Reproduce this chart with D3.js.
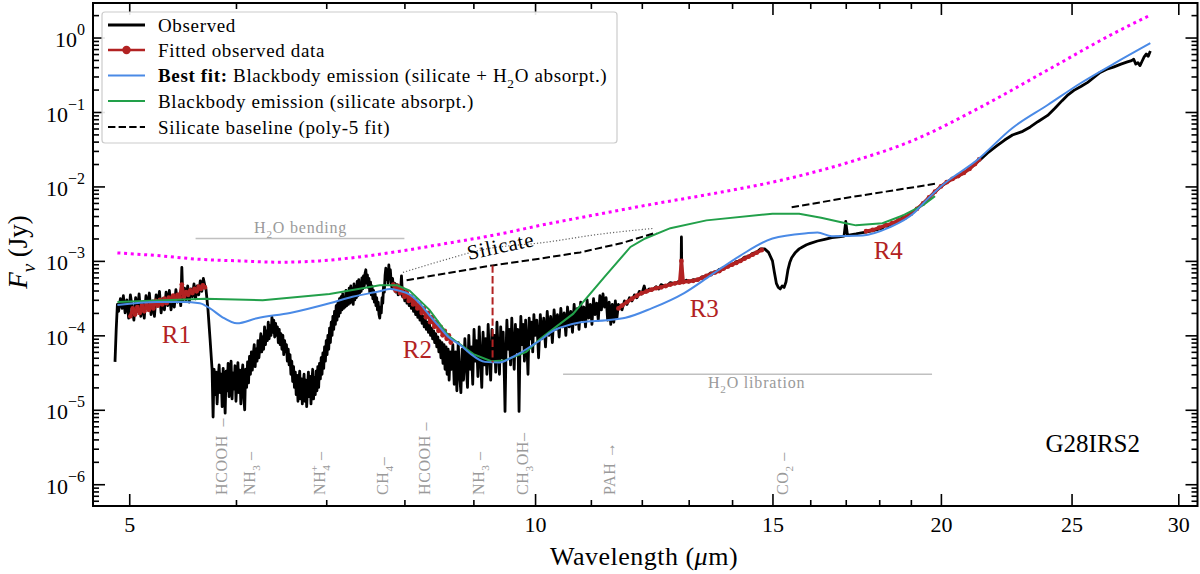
<!DOCTYPE html>
<html>
<head>
<meta charset="utf-8">
<script src="https://cdn.jsdelivr.net/npm/d3@7"></script>
<style>
  body { margin: 0; background: #fff; }
  svg { display: block; font-family: "Liberation Serif", "DejaVu Serif", serif; }
</style>
</head>
<body>
<svg width="1200" height="574"></svg>
<script>
const svg = d3.select("svg");

// DATA  (wavelength in micron, flux density in Jy)
const observed = [
  [4.88,4.4e-5],[4.89,1.2e-4],[4.90,2.6e-4],[4.91,2.1e-4],[4.925,3.1e-4],[4.94,2.3e-4],
  [4.950,3.4e-4],[4.965,2.0e-4],[4.980,3.0e-4],[4.995,1.7e-4],[5.010,3.5e-4],[5.025,2.4e-4],[5.040,1.6e-4],
  [5.055,3.2e-4],[5.070,2.1e-4],[5.085,3.6e-4],[5.100,1.8e-4],[5.115,2.7e-4],[5.130,1.7e-4],[5.145,3.4e-4],
  [5.160,2.3e-4],[5.175,3.7e-4],[5.190,1.9e-4],[5.205,2.9e-4],[5.220,1.8e-4],[5.235,3.5e-4],[5.250,2.6e-4],
  [5.265,3.9e-4],[5.280,2.0e-4],[5.295,3.1e-4],[5.310,2.2e-4],[5.325,3.8e-4],[5.340,2.5e-4],[5.355,4.0e-4],
  [5.370,2.2e-4],[5.385,3.3e-4],[5.400,2.4e-4],[5.415,4.1e-4],[5.430,2.8e-4],[5.445,3.6e-4],[5.460,2.5e-4],
  [5.470,8.2e-4],[5.480,2.9e-4],[5.495,4.3e-4],[5.510,3.0e-4],[5.525,4.6e-4],[5.540,2.8e-4],[5.555,4.2e-4],
  [5.570,3.3e-4],[5.585,4.9e-4],[5.600,3.1e-4],[5.615,4.6e-4],[5.630,3.5e-4],[5.645,5.4e-4],[5.660,3.9e-4],
  [5.675,5.8e-4],[5.690,4.6e-4],[5.700,4.2e-4],[5.72,2.2e-4],[5.74,9.0e-5],[5.76,3.5e-5],[5.77,8.0e-6],
  [5.780,3.5e-5],[5.790,1.6e-5],[5.800,3.2e-5],[5.810,1.2e-5],[5.820,2.6e-5],[5.830,4.0e-5],[5.840,1.7e-5],
  [5.850,3.0e-5],[5.860,1.1e-5],[5.870,3.6e-5],[5.880,2.2e-5],[5.890,9.0e-6],[5.900,3.3e-5],[5.910,1.8e-5],
  [5.920,4.2e-5],[5.930,1.5e-5],[5.940,2.8e-5],[5.950,4.5e-5],[5.960,1.4e-5],[5.970,3.1e-5],[5.980,1.9e-5],
  [5.990,3.9e-5],[6.000,1.3e-5],[6.010,2.6e-5],[6.020,4.3e-5],[6.030,1.7e-5],[6.040,3.4e-5],[6.050,1.2e-5],
  [6.060,2.9e-5],[6.070,4.0e-5],[6.080,1.5e-5],[6.090,1.0e-5],[6.100,3.5e-5],[6.110,2.0e-5],[6.120,4.4e-5],
  [6.130,2.3e-5],[6.140,5.2e-5],[6.150,3.0e-5],[6.160,6.0e-5],[6.170,3.4e-5],[6.180,5.5e-5],[6.190,7.5e-5],
  [6.200,3.8e-5],[6.210,6.5e-5],[6.220,4.5e-5],[6.230,8.5e-5],[6.240,5.0e-5],[6.250,7.0e-5],[6.260,1.05e-4],
  [6.270,6.0e-5],[6.280,9.5e-5],[6.290,6.5e-5],[6.300,1.3e-4],[6.310,7.5e-5],[6.320,1.15e-4],[6.330,8.5e-5],
  [6.340,1.5e-4],[6.350,9.0e-5],[6.360,1.35e-4],[6.370,1.0e-4],[6.380,1.75e-4],[6.390,1.1e-4],[6.400,1.6e-4],
  [6.410,9.5e-5],[6.420,1.45e-4],[6.430,1.0e-4],[6.440,1.3e-4],[6.450,8.0e-5],[6.460,1.2e-4],[6.470,7.5e-5],
  [6.480,1.05e-4],[6.490,6.5e-5],[6.500,1.0e-4],[6.510,5.5e-5],[6.520,8.5e-5],[6.530,6.0e-5],[6.540,7.5e-5],
  [6.550,4.5e-5],[6.560,6.5e-5],[6.570,4.0e-5],[6.580,5.5e-5],[6.590,3.0e-5],[6.600,4.5e-5],[6.610,2.4e-5],
  [6.620,3.8e-5],[6.630,2.0e-5],[6.640,3.2e-5],[6.650,1.6e-5],[6.660,2.9e-5],[6.670,1.3e-5],[6.680,2.4e-5],
  [6.690,3.3e-5],[6.700,1.4e-5],[6.710,2.6e-5],[6.720,1.2e-5],[6.730,2.2e-5],[6.740,3.0e-5],[6.750,1.3e-5],
  [6.760,2.5e-5],[6.770,1.1e-5],[6.780,2.0e-5],[6.790,3.2e-5],[6.800,1.5e-5],[6.810,2.8e-5],[6.820,1.2e-5],
  [6.830,2.3e-5],[6.840,3.5e-5],[6.850,1.4e-5],[6.860,2.7e-5],[6.870,1.6e-5],[6.880,3.3e-5],[6.890,1.8e-5],
  [6.900,3.8e-5],[6.910,2.0e-5],[6.920,4.2e-5],[6.930,2.6e-5],[6.940,5.0e-5],[6.950,3.0e-5],[6.960,5.8e-5],
  [6.970,3.6e-5],[6.980,7.0e-5],[6.990,4.5e-5],[7.000,8.5e-5],[7.010,5.5e-5],[7.020,1.0e-4],[7.030,6.5e-5],
  [7.040,1.25e-4],[7.050,8.0e-5],[7.060,1.5e-4],[7.070,1.0e-4],[7.080,1.8e-4],[7.090,1.2e-4],[7.100,2.1e-4],
  [7.110,1.4e-4],[7.120,2.5e-4],[7.130,1.6e-4],[7.140,2.7e-4],[7.150,1.8e-4],[7.160,3.1e-4],[7.170,2.0e-4],
  [7.180,3.3e-4],[7.190,2.2e-4],[7.200,3.6e-4],[7.210,2.3e-4],[7.220,3.2e-4],[7.230,2.4e-4],[7.240,4.0e-4],
  [7.250,2.5e-4],[7.260,3.7e-4],[7.270,2.6e-4],[7.280,4.3e-4],[7.290,2.7e-4],[7.300,4.6e-4],[7.310,2.8e-4],
  [7.320,4.2e-4],[7.330,2.6e-4],[7.340,4.9e-4],[7.350,3.0e-4],[7.360,4.5e-4],[7.370,3.2e-4],[7.380,5.3e-4],
  [7.390,3.4e-4],[7.400,5.6e-4],[7.410,3.7e-4],[7.420,5.0e-4],[7.430,3.9e-4],[7.440,5.9e-4],[7.450,4.2e-4],
  [7.460,6.3e-4],[7.470,4.6e-4],[7.480,6.8e-4],[7.490,7.6e-4],[7.500,5.0e-4],[7.510,6.5e-4],[7.520,4.4e-4],
  [7.530,5.8e-4],[7.540,3.8e-4],[7.550,5.2e-4],[7.560,3.5e-4],[7.570,4.6e-4],[7.580,3.1e-4],[7.590,4.0e-4],
  [7.600,2.8e-4],[7.610,3.6e-4],[7.620,2.5e-4],[7.630,3.2e-4],[7.640,2.2e-4],[7.650,2.8e-4],[7.660,1.9e-4],
  [7.670,1.7e-4],[7.680,2.4e-4],[7.690,2.0e-4],[7.700,3.2e-4],[7.710,2.7e-4],[7.720,4.6e-4],[7.730,3.8e-4],
  [7.740,6.4e-4],[7.750,8.0e-4],[7.760,5.6e-4],[7.770,7.2e-4],[7.780,5.0e-4],[7.790,8.8e-4],[7.800,6.2e-4],
  [7.810,7.6e-4],[7.820,5.4e-4],[7.830,4.4e-4],[7.840,5.8e-4],[7.850,4.2e-4],[7.870,5.0e-4],[7.885,3.8e-4],
  [7.900,4.8e-4],[7.915,3.5e-4],[7.930,4.4e-4],[7.945,3.6e-4],[7.960,6.3e-4],[7.975,3.3e-4],[7.990,4.0e-4],
  [8.005,2.9e-4],[8.020,3.6e-4],[8.035,2.7e-4],[8.050,3.3e-4],[8.065,2.5e-4],[8.080,3.1e-4],[8.095,2.3e-4],
  [8.110,2.8e-4],[8.125,2.1e-4],[8.140,2.6e-4],[8.155,1.9e-4],[8.170,2.4e-4],[8.185,1.75e-4],[8.200,2.2e-4],
  [8.215,1.6e-4],[8.230,2.0e-4],[8.245,1.45e-4],[8.260,1.8e-4],[8.275,1.3e-4],[8.290,1.65e-4],[8.305,1.2e-4],
  [8.320,1.5e-4],[8.335,1.1e-4],[8.350,1.4e-4],[8.365,1.0e-4],[8.380,1.25e-4],[8.395,9.0e-5],[8.410,1.15e-4],
  [8.425,8.0e-5],[8.440,1.05e-4],[8.455,7.0e-5],[8.470,9.5e-5],[8.485,6.0e-5],[8.500,8.5e-5],[8.515,5.0e-5],
  [8.530,8.0e-5],[8.545,4.2e-5],[8.560,7.5e-5],[8.575,3.5e-5],[8.590,7.0e-5],[8.605,3.0e-5],[8.620,6.5e-5],
  [8.635,2.5e-5],[8.650,6.0e-5],[8.670,3.5e-5],[8.690,7.5e-5],[8.710,2.2e-5],[8.730,6.0e-5],[8.750,1.8e-5],
  [8.770,8.0e-5],[8.790,3.0e-5],[8.810,1.7e-5],[8.830,6.5e-5],[8.850,2.5e-5],[8.870,9.0e-5],[8.890,4.0e-5],
  [8.910,2.0e-5],[8.930,1.0e-4],[8.950,3.5e-5],[8.970,7.0e-5],[8.990,2.2e-5],[9.010,1.2e-4],[9.030,4.5e-5],
  [9.050,8.5e-5],[9.070,2.8e-5],[9.090,1.3e-4],[9.110,5.0e-5],[9.130,2.0e-5],[9.150,1.1e-4],[9.170,4.0e-5],
  [9.190,9.0e-5],[9.210,3.0e-5],[9.230,1.4e-4],[9.250,5.5e-5],[9.270,2.5e-5],[9.290,1.2e-4],[9.310,4.5e-5],
  [9.330,1.0e-4],[9.350,3.2e-5],[9.370,1.5e-4],[9.390,6.0e-5],[9.410,3.0e-5],[9.430,1.3e-4],[9.450,5.0e-5],
  [9.470,1.1e-4],[9.490,2.5e-5],[9.500,9.5e-6],[9.515,5.5e-5],[9.530,1.6e-4],[9.550,6.5e-5],[9.570,1.2e-4],
  [9.590,4.0e-5],[9.610,1.7e-4],[9.630,7.0e-5],[9.650,3.5e-5],[9.670,1.4e-4],[9.690,6.0e-5],[9.710,1.2e-4],
  [9.730,9.5e-6],[9.745,6.5e-5],[9.760,1.8e-4],[9.780,7.5e-5],[9.800,1.4e-4],[9.820,4.5e-5],[9.840,1.6e-4],
  [9.860,8.0e-5],[9.880,3.0e-5],[9.900,1.7e-4],[9.920,9.0e-5],[9.940,1.5e-4],[9.960,6.0e-5],[9.980,1.9e-4],
  [10.00,1.0e-4],[10.03,1.6e-4],[10.06,5.0e-5],[10.09,1.9e-4],[10.12,9.0e-5],[10.15,1.7e-4],[10.18,7.0e-5],
  [10.21,2.1e-4],[10.24,1.0e-4],[10.27,1.8e-4],[10.30,8.0e-5],[10.33,2.2e-4],[10.36,1.2e-4],[10.39,1.9e-4],
  [10.42,9.5e-5],[10.45,2.3e-4],[10.48,1.3e-4],[10.51,2.0e-4],[10.54,1.0e-4],[10.57,2.4e-4],[10.60,1.3e-4],
  [10.63,2.1e-4],[10.66,1.1e-4],[10.69,2.6e-4],[10.72,1.4e-4],[10.75,2.3e-4],[10.78,1.2e-4],[10.81,2.8e-4],
  [10.84,1.6e-4],[10.87,2.4e-4],[10.90,1.3e-4],[10.93,3.0e-4],[10.96,1.7e-4],[10.99,2.6e-4],[11.02,1.4e-4],
  [11.05,3.1e-4],[11.08,1.9e-4],[11.11,2.7e-4],[11.14,1.6e-4],[11.17,3.4e-4],[11.20,2.2e-4],[11.23,3.6e-4],
  [11.26,2.4e-4],[11.29,3.2e-4],[11.32,1.6e-4],[11.35,2.8e-4],[11.38,1.4e-4],[11.41,2.6e-4],[11.44,1.5e-4],
  [11.47,2.9e-4],[11.50,1.7e-4],[11.53,2.6e-4],[11.6,2.2e-4],[11.65,2.9e-4],
  [11.7,2.6e-4],[11.75,3.2e-4],[11.8,2.9e-4],[11.85,3.5e-4],[11.9,3.2e-4],[11.95,3.9e-4],[12.0,3.6e-4],[12.05,4.6e-4],
  [12.08,3.8e-4],[12.15,4.2e-4],[12.2,4.0e-4],[12.3,4.5e-4],[12.35,4.2e-4],[12.4,4.8e-4],[12.5,4.5e-4],[12.6,5.1e-4],
  [12.7,4.9e-4],[12.78,5.3e-4],[12.83,5.1e-4],[12.84,2.1e-3],[12.85,5.2e-4],[12.95,5.5e-4],[13.0,5.2e-4],[13.1,5.6e-4],
  [13.2,5.5e-4],[13.3,6.1e-4],[13.4,6.2e-4],[13.5,6.9e-4],[13.6,6.9e-4],[13.7,7.7e-4],[13.8,7.9e-4],[13.9,8.7e-4],
  [14.0,8.8e-4],[14.1,9.8e-4],[14.2,1.0e-3],[14.3,1.12e-3],[14.4,1.14e-3],[14.5,1.26e-3],[14.6,1.3e-3],[14.7,1.45e-3],
  [14.8,1.45e-3],[14.9,1.3e-3],[15.0,1.0e-3],[15.05,7.0e-4],[15.1,5.0e-4],[15.15,4.4e-4],[15.2,4.2e-4],[15.25,4.6e-4],
  [15.3,4.4e-4],[15.35,5.2e-4],[15.4,7.5e-4],[15.45,9.5e-4],[15.5,1.1e-3],[15.6,1.3e-3],[15.7,1.45e-3],[15.8,1.55e-3],
  [15.9,1.65e-3],[16.0,1.72e-3],[16.2,1.85e-3],[16.4,1.95e-3],[16.6,2.05e-3],[16.8,2.1e-3],[16.95,2.15e-3],[17.0,3.4e-3],
  [17.05,2.2e-3],[17.3,2.3e-3],[17.5,2.4e-3],[17.7,2.5e-3],[17.9,2.6e-3],[18.1,2.75e-3],[18.2,3.1e-3],[18.25,2.9e-3],
  [18.5,3.3e-3],[18.7,3.6e-3],[18.72,4.0e-3],[18.75,3.7e-3],[19.0,4.3e-3],[19.3,5.4e-3],[19.6,7.1e-3],[20.0,1.0e-2],
  [20.4,1.27e-2],[20.8,1.52e-2],[21.1,1.85e-2],[21.4,2.3e-2],[21.7,2.9e-2],[22.0,3.5e-2],[22.3,4.2e-2],[22.6,4.9e-2],
  [23.0,5.5e-2],[23.3,6.3e-2],[23.6,7.4e-2],[24.0,9.0e-2],[24.3,1.12e-1],[24.6,1.42e-1],[24.85,1.7e-1],[25.1,1.95e-1],
  [25.4,2.2e-1],[25.7,2.5e-1],[26.0,2.95e-1],[26.25,3.4e-1],[26.55,3.75e-1],[26.85,4.0e-1],[27.2,4.4e-1],[27.5,4.7e-1],
  [27.7,4.9e-1],[27.8,5.1e-1],[27.9,4.4e-1],[28.0,4.6e-1],[28.1,4.2e-1],[28.2,4.8e-1],[28.3,5.5e-1],[28.4,6.0e-1],
  [28.5,5.6e-1],[28.6,6.6e-1]
];

const fitR1 = [
  [5.01,1.8e-4],[5.03,2.3e-4],[5.05,1.9e-4],[5.07,2.4e-4],[5.09,2.0e-4],[5.11,2.5e-4],[5.13,2.1e-4],[5.15,2.6e-4],
  [5.17,2.2e-4],[5.19,2.8e-4],[5.21,2.3e-4],[5.23,2.9e-4],[5.25,2.5e-4],[5.27,3.0e-4],[5.29,2.6e-4],[5.31,3.1e-4],
  [5.33,2.7e-4],[5.35,3.2e-4],[5.37,2.9e-4],[5.39,3.4e-4],[5.41,3.0e-4],[5.43,3.5e-4],[5.45,3.2e-4],[5.47,4.8e-4],
  [5.49,3.3e-4],[5.51,3.8e-4],[5.53,3.5e-4],[5.55,4.0e-4],[5.57,3.7e-4],[5.59,4.2e-4],[5.61,3.9e-4],[5.63,4.5e-4],
  [5.65,4.2e-4],[5.67,4.7e-4],[5.69,4.4e-4]
];
const fitR2 = [
  [7.85,4.8e-4],[7.88,4.0e-4],[7.91,4.6e-4],[7.94,3.7e-4],[7.97,4.2e-4],[8.00,3.3e-4],[8.03,3.8e-4],[8.06,2.9e-4],
  [8.09,3.3e-4],[8.12,2.6e-4],[8.15,3.0e-4],[8.18,2.3e-4],[8.21,2.6e-4],[8.24,2.0e-4],[8.27,2.3e-4],[8.30,1.75e-4],
  [8.33,2.0e-4],[8.36,1.5e-4],[8.39,1.75e-4],[8.42,1.3e-4],[8.45,1.5e-4],[8.48,1.15e-4],[8.51,1.3e-4],[8.54,1.0e-4],
  [8.57,1.15e-4],[8.60,9.0e-5],[8.63,1.0e-4],[8.66,8.0e-5]
];
const fitR3 = [
  [11.53,2.3e-4],[11.6,2.5e-4],[11.7,2.8e-4],[11.8,3.1e-4],[11.9,3.4e-4],[12.0,3.7e-4],[12.1,3.9e-4],[12.2,4.1e-4],
  [12.3,4.3e-4],[12.4,4.4e-4],[12.5,4.6e-4],[12.6,4.8e-4],[12.7,5.0e-4],[12.8,5.1e-4],[12.84,1.0e-3],[12.88,5.2e-4],
  [13.0,5.3e-4],[13.1,5.4e-4],[13.2,5.6e-4],[13.3,5.9e-4],[13.4,6.3e-4],[13.5,6.6e-4],[13.6,7.0e-4],[13.7,7.3e-4],
  [13.8,7.9e-4],[13.9,8.4e-4],[14.0,8.9e-4],[14.1,9.4e-4],[14.2,1.0e-3],[14.3,1.07e-3],[14.4,1.14e-3],[14.5,1.21e-3],
  [14.6,1.29e-3],[14.73,1.4e-3]
];
const fitR4 = [
  [17.6,2.5e-3],[17.8,2.6e-3],[18.0,2.8e-3],[18.2,3.0e-3],[18.4,3.2e-3],[18.6,3.5e-3],[18.8,3.8e-3],[19.0,4.3e-3],
  [19.2,5.0e-3],[19.4,5.9e-3],[19.6,7.1e-3],[19.8,8.5e-3],[20.0,1.0e-2],[20.2,1.14e-2],[20.4,1.26e-2],[20.6,1.38e-2],
  [20.8,1.52e-2],[21.0,1.72e-2],[21.2,2.0e-2],[21.35,2.3e-2]
];

// best fit: blackbody with silicate + H2O absorption
const bestFit = [
  [4.9,2.55e-4],[5.24,2.8e-4],[5.48,2.8e-4],[5.64,2.7e-4],[5.74,2.3e-4],[5.86,1.76e-4],[6.01,1.45e-4],[6.22,1.7e-4],
  [6.58,2.0e-4],[7.04,2.7e-4],[7.32,3.3e-4],[7.67,3.9e-4],[7.81,4.2e-4],[7.92,4.0e-4],[8.08,3.5e-4],[8.21,2.7e-4],
  [8.35,1.86e-4],[8.5,1.28e-4],[8.63,9.4e-5],[8.8,7.4e-5],[8.94,5.8e-5],[9.18,4.4e-5],[9.41,4.3e-5],[9.6,5.0e-5],
  [9.75,5.8e-5],[9.96,7.4e-5],[10.09,8.6e-5],[10.33,1.17e-4],[10.45,1.28e-4],[10.81,1.5e-4],[11.3,1.6e-4],
  [11.67,1.72e-4],[12.2,2.3e-4],[12.9,3.7e-4],[13.5,6.4e-4],[14.2,1.18e-3],[15.0,2.0e-3],[15.9,2.35e-3],[16.2,2.4e-3],
  [16.6,2.15e-3],[17.5,2.2e-3],[18.3,2.8e-3],[19.1,4.4e-3],[19.5,6.5e-3],[20.0,1.0e-2],[21.3,2.3e-2],[22.6,6.1e-2],
  [24.0,1.24e-1],[25.4,2.45e-1],[26.9,4.5e-1],[28.6,8.4e-1]
];
// blackbody with silicate absorption only
const silicateOnly = [
  [4.9,2.8e-4],[5.69,3.1e-4],[6.28,2.96e-4],[7.04,3.6e-4],[7.67,4.7e-4],[7.9,4.7e-4],[8.07,4.0e-4],[8.35,2.2e-4],
  [8.63,9.8e-5],[9.0,5.6e-5],[9.28,4.5e-5],[9.5,4.6e-5],[9.85,6.0e-5],[10.09,9.0e-5],[10.67,1.94e-4],[11.26,6.1e-4],
  [11.77,1.54e-3],[12.07,2.0e-3],[12.6,2.75e-3],[13.4,3.5e-3],[15.0,4.3e-3],[15.7,4.3e-3],[16.3,3.8e-3],[17.0,3.2e-3],
  [17.3,3.0e-3],[18.1,3.2e-3],[18.7,4.0e-3],[19.4,5.6e-3],[19.8,7.4e-3]
];
// unabsorbed emission (magenta dotted)
const magentaModel = [
  [4.9,1.28e-3],[5.27,1.17e-3],[5.64,1.05e-3],[6.04,1.0e-3],[6.46,9.6e-4],[6.92,1.0e-3],[7.41,1.13e-3],[7.94,1.35e-3],
  [8.65,1.75e-3],[9.42,2.3e-3],[10.09,3.0e-3],[11.19,4.3e-3],[12.1,5.6e-3],[13.75,8.4e-3],[15.25,1.22e-2],
  [17.0,2.05e-2],[19.1,4.2e-2],[21.4,1.16e-1],[24.0,3.66e-1],[26.9,1.15],[28.6,2.0]
];
// silicate baseline (poly-5), two drawn stretches
const baselineA = [[8.03,5.5e-4],[9.3,8.7e-4],[10.08,1.07e-3],[10.8,1.3e-3],[11.58,1.72e-3],[12.3,2.4e-3]];
const baselineB = [[15.5,5.25e-3],[17.0,7.0e-3],[19.9,1.1e-2]];
const silicateGuide = [[7.98,7.0e-4],[8.6,1.05e-3],[9.1,1.39e-3],[10.21,1.79e-3],[11.12,2.26e-3],[12.24,2.73e-3]];
const tauMarker = [[9.3,8.7e-4],[9.3,4.3e-5]];

// annotations
const bands = [
  {parts:[["H"],["2","sub"],["O bending"]], from:5.6, to:8.0, flux:2.0e-3, textFlux:2.37e-3, textWave:6.7},
  {parts:[["H"],["2","sub"],["O libration"]], from:10.49, to:19.7, flux:3.0e-5, textFlux:1.95e-5, textWave:14.6}
];
const molecules = [
  {wave:5.91, parts:[["HCOOH\u2002\u2013"]]},
  {wave:6.20, parts:[["NH"],["3","sub"],[" \u2013"]]},
  {wave:6.99, parts:[["NH"],["4","sub"],["+","sup",-7],[" \u2013"]]},
  {wave:7.78, parts:[["CH"],["4","sub"],["\u2013"]]},
  {wave:8.36, parts:[["HCOOH \u2013"]]},
  {wave:9.17, parts:[["NH"],["3","sub"],[" \u2013"]]},
  {wave:9.88, parts:[["CH"],["3","sub"],["OH\u2013"]]},
  {wave:11.46, parts:[["PAH \u2192"]]},
  {wave:15.40, parts:[["CO"],["2","sub"],[" \u2013"]]}
];
const regionNames = ["R1","R2","R3","R4"];
const regionWave = [5.42, 8.18, 13.35, 18.28];
const regionFlux = [7.8e-5, 4.9e-5, 1.75e-4, 1.05e-3];

const xMajor = [5, 10, 15, 20, 25, 30];
const xMinor = [6, 7, 8, 9, 11, 12, 13, 14, 16, 17, 18, 19];
const yExponents = [-6, -5, -4, -3, -2, -1, 0];

// COLOURS
const red = "#b22222", blue = "#4a8ae6", green = "#22a04a", magenta = "#ff00ff";
const grayText = "#9a9a9a", grayLine = "#c0c0c0";

// SCALES
const pL = 93, pR = 1197.5, pT = 3, pB = 506;
const x = d3.scaleLog().domain([4.7, 31]).range([pL, pR]);
const y = d3.scaleLog().domain([5.1e-7, 2.91]).range([pB, pT]);
const line = d3.line().x(d => x(d[0])).y(d => y(d[1]));
const smooth = d3.line().curve(d3.curveMonotoneX).x(d => x(d[0])).y(d => y(d[1]));

// rich text helper: parts = [text, style, dx]
function rich(sel, parts, size) {
  let cur = 0;
  parts.forEach(([t, s, dx]) => {
    const off = s === "sub" ? 0.3 * size : s === "sup" ? -0.45 * size : 0;
    const ts = sel.append("tspan").attr("dy", off - cur).text(t);
    if (dx) ts.attr("dx", dx);
    if (s === "sub" || s === "sup") ts.attr("font-size", 0.7 * size);
    if (s === "b") ts.attr("font-weight", "bold");
    if (s === "i") ts.attr("font-style", "italic");
    cur = off;
  });
}

svg.append("clipPath").attr("id", "plot")
  .append("rect").attr("x", pL).attr("y", pT).attr("width", pR - pL).attr("height", pB - pT);
const plot = svg.append("g").attr("clip-path", "url(#plot)");

// grey annotation lines
plot.selectAll(".band").data(bands).enter().append("line")
  .attr("x1", d => x(d.from)).attr("x2", d => x(d.to))
  .attr("y1", d => y(d.flux)).attr("y2", d => y(d.flux))
  .attr("stroke", grayLine).attr("stroke-width", 1.5);
plot.selectAll(".bandText").data(bands).enter().append("text")
  .attr("x", d => x(d.textWave)).attr("y", d => y(d.textFlux))
  .attr("text-anchor", "middle").attr("font-size", 16).attr("letter-spacing", 0.8)
  .attr("fill", grayText)
  .each(function(d) { rich(d3.select(this), d.parts, 16); });

// silicate guide (grey dotted)
plot.append("path").datum(silicateGuide).attr("d", smooth)
  .attr("fill", "none").attr("stroke", "#666").attr("stroke-width", 1.2).attr("stroke-dasharray", "1.2,2");

// magenta dotted model
plot.append("path").datum(magentaModel).attr("d", smooth)
  .attr("fill", "none").attr("stroke", magenta).attr("stroke-width", 3).attr("stroke-dasharray", "3,3.7");

// observed spectrum
plot.append("path").datum(observed).attr("d", line)
  .attr("fill", "none").attr("stroke", "#000").attr("stroke-width", 2.8).attr("stroke-linejoin", "round");

// fitted observed data
[fitR1, fitR2, fitR3, fitR4].forEach(seg => {
  plot.append("path").datum(seg).attr("d", line)
    .attr("fill", "none").attr("stroke", red).attr("stroke-width", 3.4).attr("stroke-linejoin", "round");
  plot.selectAll(null).data(seg).enter().append("circle")
    .attr("cx", d => x(d[0])).attr("cy", d => y(d[1])).attr("r", 2.4).attr("fill", red);
});

// models
plot.append("path").datum(silicateOnly).attr("d", line)
  .attr("fill", "none").attr("stroke", green).attr("stroke-width", 2);
plot.append("path").datum(bestFit).attr("d", smooth)
  .attr("fill", "none").attr("stroke", blue).attr("stroke-width", 2);

// silicate baseline
[baselineA, baselineB].forEach(seg => {
  plot.append("path").datum(seg).attr("d", line)
    .attr("fill", "none").attr("stroke", "#000").attr("stroke-width", 2).attr("stroke-dasharray", "7.4,3.2");
});
plot.append("path").datum(tauMarker).attr("d", line)
  .attr("fill", "none").attr("stroke", red).attr("stroke-width", 2).attr("stroke-dasharray", "7.4,3.2");

// text labels in the plot
const silX = x(9.45), silY = y(1.28e-3);
plot.append("text").attr("x", silX).attr("y", silY)
  .attr("transform", `rotate(-12, ${silX}, ${silY})`)
  .attr("text-anchor", "middle").attr("font-size", 21).attr("letter-spacing", 0.6).text("Silicate");

plot.selectAll(".region").data(regionNames).enter().append("text")
  .attr("x", (d, i) => x(regionWave[i])).attr("y", (d, i) => y(regionFlux[i]))
  .attr("text-anchor", "middle").attr("font-size", 25).attr("fill", red).text(d => d);

plot.selectAll(".mol").data(molecules).enter().append("text")
  .attr("transform", d => `translate(${x(d.wave)},495) rotate(-90)`)
  .attr("font-size", 16).attr("letter-spacing", 0.6).attr("fill", grayText)
  .each(function(d) { rich(d3.select(this), d.parts, 16); });

svg.append("text").attr("x", 1140).attr("y", 452).attr("text-anchor", "end")
  .attr("font-size", 25).text("G28IRS2");

// AXES
function styleAxis(g) {
  g.select(".domain").remove();
  g.attr("font-family", null).attr("font-size", 22);
  g.selectAll("line").attr("stroke", "#000").attr("stroke-width", 1.6);
  g.selectAll("text").attr("fill", "#000");
  return g;
}
const yMinor = [];
yExponents.concat([-7]).forEach(e => { for (let m = 2; m <= 9; m++) yMinor.push(m * Math.pow(10, e)); });
const yMinorIn = yMinor.filter(v => v > 5.1e-7 && v < 2.91);
const yMajor = yExponents.map(e => Math.pow(10, e));

svg.append("g").attr("transform", `translate(0,${pB})`)
  .call(d3.axisBottom(x).tickValues(xMajor).tickFormat(d3.format("d")).tickSizeInner(-12).tickSizeOuter(0).tickPadding(10))
  .call(styleAxis);
svg.append("g").attr("transform", `translate(0,${pB})`)
  .call(d3.axisBottom(x).tickValues(xMinor).tickFormat("").tickSizeInner(-6).tickSizeOuter(0)).call(styleAxis);
svg.append("g").attr("transform", `translate(0,${pT})`)
  .call(d3.axisTop(x).tickValues(xMajor).tickFormat("").tickSizeInner(-12).tickSizeOuter(0)).call(styleAxis);
svg.append("g").attr("transform", `translate(0,${pT})`)
  .call(d3.axisTop(x).tickValues(xMinor).tickFormat("").tickSizeInner(-6).tickSizeOuter(0)).call(styleAxis);

const yAxisG = svg.append("g").attr("transform", `translate(${pL},0)`)
  .call(d3.axisLeft(y).tickValues(yMajor).tickSizeInner(-12).tickSizeOuter(0).tickPadding(8))
  .call(styleAxis);
yAxisG.selectAll(".tick text").attr("dy", "0.41em").each(function(d) {
  const e = Math.round(Math.log10(d));
  const t = d3.select(this).text(null);
  t.append("tspan").text("10");
  t.append("tspan").attr("dy", -12).attr("font-size", 16).text(e < 0 ? "\u2212" + (-e) : String(e));
});
svg.append("g").attr("transform", `translate(${pL},0)`)
  .call(d3.axisLeft(y).tickValues(yMinorIn).tickFormat("").tickSizeInner(-6).tickSizeOuter(0))
  .call(styleAxis);
svg.append("g").attr("transform", `translate(${pR},0)`)
  .call(d3.axisRight(y).tickValues(yMajor).tickFormat("").tickSizeInner(-12).tickSizeOuter(0)).call(styleAxis);
svg.append("g").attr("transform", `translate(${pR},0)`)
  .call(d3.axisRight(y).tickValues(yMinorIn).tickFormat("").tickSizeInner(-6).tickSizeOuter(0))
  .call(styleAxis);

svg.append("rect").attr("x", pL).attr("y", pT).attr("width", pR - pL).attr("height", pB - pT)
  .attr("fill", "none").attr("stroke", "#000").attr("stroke-width", 2);

// axis titles
const xTitle = svg.append("text").attr("x", 644).attr("y", 565).attr("text-anchor", "middle")
  .attr("font-size", 26).attr("letter-spacing", 0.5);
rich(xTitle, [["Wavelength ("], ["\u03bc", "i"], ["m)"]], 26);
const yTitle = svg.append("text").attr("transform", "translate(27,252) rotate(-90)")
  .attr("text-anchor", "middle").attr("font-size", 27);
rich(yTitle, [["F", "i"], ["\u03bd", "sub"], [" (Jy)"]], 27);
yTitle.select("tspan:nth-child(2)").attr("font-style", "italic");

// LEGEND
const legend = svg.append("g");
legend.append("rect").attr("x", 102).attr("y", 12).attr("width", 515).attr("height", 131).attr("rx", 3)
  .attr("fill", "#fff").attr("fill-opacity", 0.9).attr("stroke", "#cccccc").attr("stroke-width", 1.2);
const legendItems = [
  {stroke: "#000", width: 3, parts: [["Observed"]]},
  {stroke: red, width: 2.5, marker: true, parts: [["Fitted observed data"]]},
  {stroke: blue, width: 2, parts: [["Best fit:", "b"], [" Blackbody emission (silicate + H"], ["2", "sub"], ["O absorpt.)"]]},
  {stroke: green, width: 2, parts: [["Blackbody emission (silicate absorpt.)"]]},
  {stroke: "#000", width: 2, dash: "7.4,3.2", parts: [["Silicate baseline (poly-5 fit)"]]}
];
const rowY = [25, 50, 75.5, 101, 127];
legendItems.forEach((it, i) => {
  const cy = rowY[i];
  legend.append("line").attr("x1", 108).attr("x2", 145).attr("y1", cy).attr("y2", cy)
    .attr("stroke", it.stroke).attr("stroke-width", it.width).attr("stroke-dasharray", it.dash || null);
  if (it.marker) legend.append("circle").attr("cx", 126.5).attr("cy", cy).attr("r", 4.2).attr("fill", red);
  const t = legend.append("text").attr("x", 158).attr("y", cy + 6.5).attr("font-size", 19).attr("letter-spacing", 0.65);
  rich(t, it.parts, 19);
});
</script>
</body>
</html>
